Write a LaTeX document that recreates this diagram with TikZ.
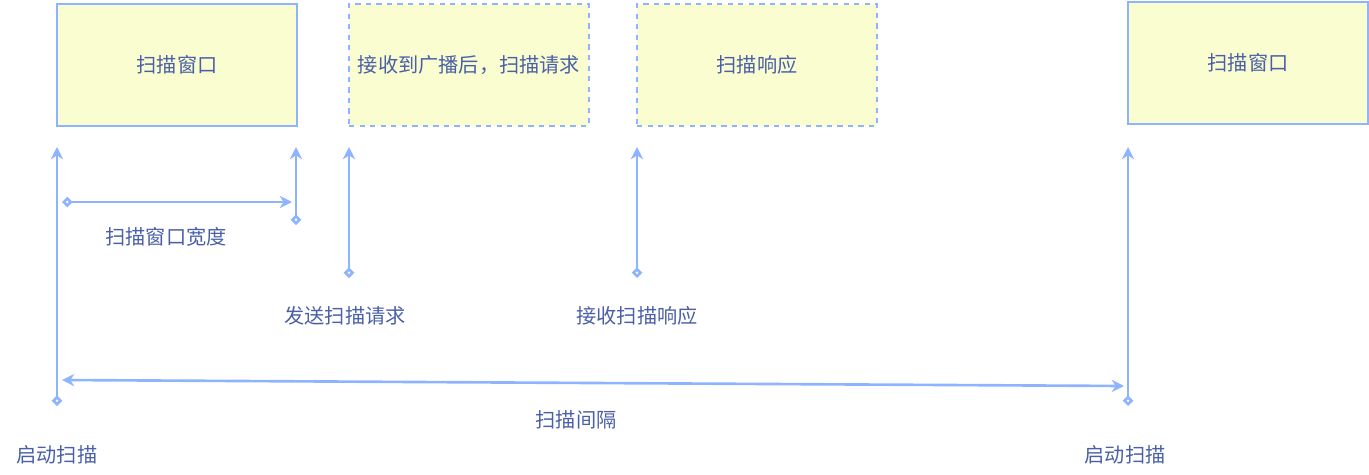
\documentclass[tikz,border=0pt]{standalone}
\usepackage{fontspec}
\newfontfamily\cjk{Noto Sans CJK SC}
\usetikzlibrary{arrows.meta}
\definecolor{ln}{HTML}{8EB4FF}
\definecolor{bf}{HTML}{F9FDD0}
\definecolor{tx}{HTML}{4A5FA8}
\begin{document}
\begin{tikzpicture}[x=0.02cm,y=-0.02cm,
  box/.style={draw=ln,fill=bf,line width=1.5pt,minimum width=4.8cm,minimum height=2.44cm,inner sep=0pt,font=\cjk\fontsize{11.5}{14}\selectfont,text=tx,align=center,text width=4.6cm},
  dbox/.style={box,dashed},
  lbl/.style={font=\cjk\fontsize{11.5}{14}\selectfont,text=tx},
  ar/.style={draw=ln,line width=1.5pt,-{Stealth[length=7pt,width=7pt]}},
  dar/.style={ar,{Diamond[open,length=6pt,width=6pt,fill=white]}-{Stealth[length=7pt,width=7pt]}}]
\useasboundingbox (0,0) rectangle (1369,474);
\node[box] (b1) at (177,65) {扫描窗口};
\node[dbox] (b2) at (469,65) {接收到广播后，扫描请求};
\node[dbox] (b3) at (757,65) {扫描响应};
\node[box] (b4) at (1248,63) {扫描窗口};
\coordinate (s1) at (57,406); \coordinate (e1) at (57,147);
\coordinate (s2) at (296,225); \coordinate (e2) at (296,147);
\coordinate (s3) at (349,278); \coordinate (e3) at (349,147);
\coordinate (s4) at (637,278); \coordinate (e4) at (637,147);
\coordinate (s5) at (1128,406); \coordinate (e5) at (1128,147);
\coordinate (h1) at (62,202); \coordinate (h2) at (292,202);
\coordinate (l1) at (62,380); \coordinate (l2) at (1124,386);
\draw[dar] (s1) -- (e1);
\draw[dar] (s2) -- (e2);
\draw[dar] (s3) -- (e3);
\draw[dar] (s4) -- (e4);
\draw[dar] (s5) -- (e5);
\draw[dar] (h1) -- (h2);
\draw[ar,{Stealth[length=7pt,width=7pt]}-{Stealth[length=7pt,width=7pt]}] (l1) -- (l2);
\node[lbl] (t1) at (166,237) {扫描窗口宽度};
\node[lbl] (t2) at (345,316) {发送扫描请求};
\node[lbl] (t3) at (637,316) {接收扫描响应};
\node[lbl] (t4) at (576,420) {扫描间隔};
\node[lbl] (t5) at (57,455) {启动扫描};
\node[lbl] (t6) at (1125,455) {启动扫描};
\end{tikzpicture}
\end{document}
